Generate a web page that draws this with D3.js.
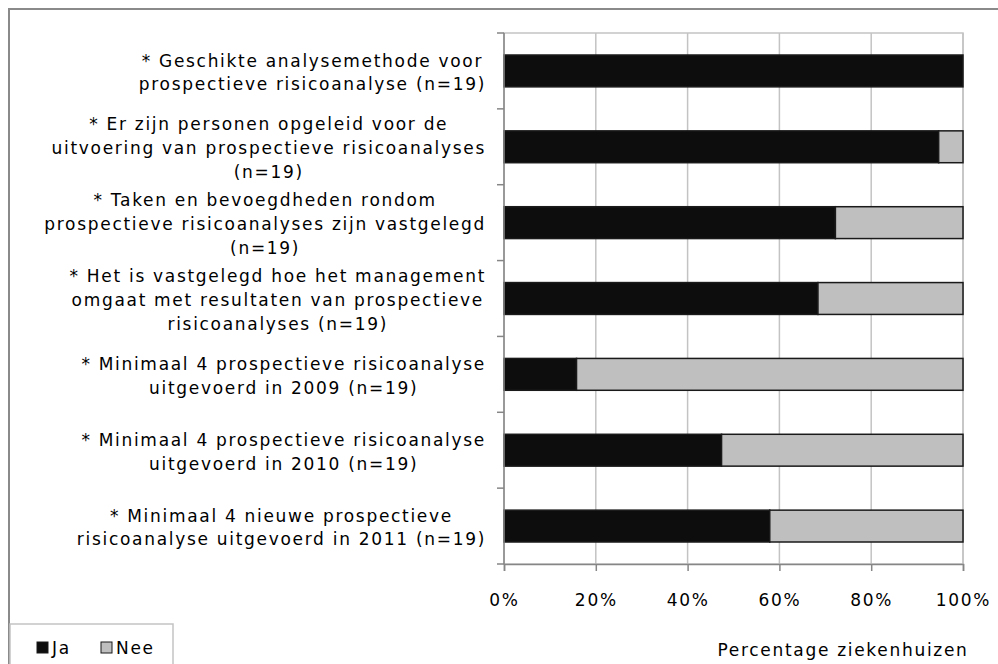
<!DOCTYPE html>
<html>
<head>
<meta charset="utf-8">
<script src="https://cdn.jsdelivr.net/npm/d3@7"></script>
<style>
  html, body { margin: 0; padding: 0; background: #fff; }
  svg { display: block; }
  text { font-family: "DejaVu Sans", Verdana, sans-serif; fill: #000; }
</style>
</head>
<body>
<svg id="chart" width="998" height="664"></svg>
<script>
const categories = [
  "* Geschikte analysemethode voor\nprospectieve risicoanalyse (n=19)",
  "* Er zijn personen opgeleid voor de\nuitvoering van prospectieve risicoanalyses\n(n=19)",
  "* Taken en bevoegdheden rondom\nprospectieve risicoanalyses zijn vastgelegd\n(n=19)",
  "* Het is vastgelegd hoe het management\nomgaat met resultaten van prospectieve\nrisicoanalyses (n=19)",
  "* Minimaal 4 prospectieve risicoanalyse\nuitgevoerd in 2009 (n=19)",
  "* Minimaal 4 prospectieve risicoanalyse\nuitgevoerd in 2010 (n=19)",
  "* Minimaal 4 nieuwe prospectieve\nrisicoanalyse uitgevoerd in 2011 (n=19)"
];
const jaValues  = [100, 94.7, 72.2, 68.4, 15.8, 47.4, 57.9];
const neeValues = [0, 5.3, 27.8, 31.6, 84.2, 52.6, 42.1];
const seriesNames = ["Ja", "Nee"];
const seriesColors = ["#0d0d0d", "#bfbfbf"];
const xTicks = [0, 20, 40, 60, 80, 100];
const xTitle = "Percentage ziekenhuizen";

(function () {
const svg = d3.select("#chart");
const FS = 17;
const LS = 1.7;

// outer frame
svg.append("rect").attr("x", 9).attr("y", 9).attr("width", 1000).attr("height", 700)
  .attr("fill", "none").attr("stroke", "#8a8a8a").attr("stroke-width", 2);

const pL = 504, pR = 963, pT = 33, pB = 564;
const x = d3.scaleLinear().domain([0, 100]).range([pL, pR]);
const y = d3.scaleBand().domain(d3.range(categories.length)).range([pT, pB])
  .paddingInner(0.58).paddingOuter(0.29);

// plot border (light)
svg.append("rect").attr("x", pL).attr("y", pT).attr("width", pR - pL).attr("height", pB - pT)
  .attr("fill", "none").attr("stroke", "#c3c3c3").attr("stroke-width", 1.5);

// gridlines
svg.append("g").selectAll("line").data(xTicks.slice(1)).join("line")
  .attr("x1", d => x(d)).attr("x2", d => x(d)).attr("y1", pT).attr("y2", pB)
  .attr("stroke", "#c3c3c3").attr("stroke-width", 1.5);

// stacked bars
const stackData = categories.map((c, i) => ({ i, Ja: jaValues[i], Nee: neeValues[i] }));
const stack = d3.stack().keys(seriesNames)(stackData);
svg.append("g").selectAll("g").data(stack).join("g")
  .attr("fill", (d, k) => seriesColors[k])
  .selectAll("rect").data(d => d.filter(p => p[1] - p[0] > 0)).join("rect")
  .attr("x", d => x(d[0])).attr("width", d => x(d[1]) - x(d[0]))
  .attr("y", d => y(d.data.i)).attr("height", y.bandwidth())
  .attr("stroke", "#1a1a1a").attr("stroke-width", 1.5);

// y axis
const yBounds = d3.range(categories.length + 1).map(k => pT + k * (pB - pT) / categories.length);
svg.append("line").attr("x1", pL).attr("x2", pL).attr("y1", pT).attr("y2", pB)
  .attr("stroke", "#868686").attr("stroke-width", 1.5);
svg.append("g").selectAll("line").data(yBounds).join("line")
  .attr("x1", pL - 7).attr("x2", pL).attr("y1", d => d).attr("y2", d => d)
  .attr("stroke", "#868686").attr("stroke-width", 1.5);

// x axis
const xAxis = d3.axisBottom(x).tickValues(xTicks).tickFormat(d => d + "%").tickSize(7).tickPadding(23);
const gx = svg.append("g").attr("transform", `translate(0,${pB})`).call(xAxis);
gx.select(".domain").attr("stroke", "#868686").attr("stroke-width", 1.5);
gx.selectAll(".tick line").attr("stroke", "#868686").attr("stroke-width", 1.5);
gx.selectAll(".tick text").attr("font-size", FS).attr("letter-spacing", LS)
  .attr("font-family", "DejaVu Sans, Verdana, sans-serif").attr("fill", "#000");

// category labels
const labelRight = 486, lineH = 23.8;
categories.forEach((c, i) => {
  const lines = c.split("\n");
  const cy = y(i) + y.bandwidth() / 2 + 1.5;
  const g = svg.append("g");
  const texts = lines.map((ln, j) => g.append("text")
    .attr("font-size", FS).attr("letter-spacing", LS)
    .attr("text-anchor", "middle").attr("dominant-baseline", "central")
    .attr("y", cy + (j - (lines.length - 1) / 2) * lineH).text(ln));
  const maxW = d3.max(texts, t => t.node().getComputedTextLength());
  texts.forEach(t => t.attr("x", labelRight - maxW / 2));
});

// x title
svg.append("text").attr("x", 843).attr("y", 650).attr("text-anchor", "middle")
  .attr("dominant-baseline", "central").attr("font-size", FS).attr("letter-spacing", LS).text(xTitle);

// legend
svg.append("rect").attr("x", 10).attr("y", 624).attr("width", 163).attr("height", 60)
  .attr("fill", "#fff").attr("stroke", "#c3c3c3").attr("stroke-width", 1.5);
const legX = [37, 101];
seriesNames.forEach((s, k) => {
  svg.append("rect").attr("x", legX[k]).attr("y", 642).attr("width", 11).attr("height", 11)
    .attr("fill", seriesColors[k]).attr("stroke", "#1a1a1a").attr("stroke-width", 1);
  svg.append("text").attr("x", legX[k] + 15).attr("y", 648).attr("dominant-baseline", "central")
    .attr("font-size", FS).attr("letter-spacing", LS).text(s);
});
})();
</script>
</body>
</html>
